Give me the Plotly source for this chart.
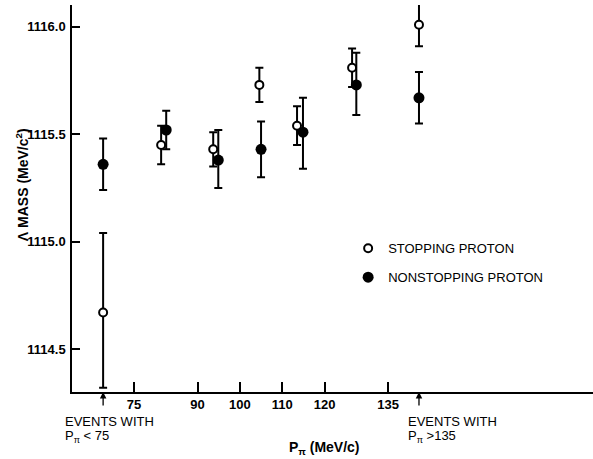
import plotly.graph_objects as go

# ---- data ----
tick_vals = [75, 90, 100, 110, 120, 135]
tick_text = ["75", "90", "100", "110", "120", "135"]
low_pos, high_pos = 67.7, 142.3   # plotting positions for "P<75" and "P>135" groups

open_x = [low_pos, 81.4, 93.7, 104.6, 113.5, 126.5, high_pos]
open_y = [1114.67, 1115.45, 1115.43, 1115.73, 1115.54, 1115.81, 1116.01]
open_ep = [0.37, 0.09, 0.08, 0.08, 0.09, 0.09, 0.10]
open_em = [0.35, 0.09, 0.08, 0.08, 0.09, 0.09, 0.10]

fill_x = [low_pos, 82.6, 94.9, 105.0, 114.9, 127.5, high_pos]
fill_y = [1115.36, 1115.52, 1115.38, 1115.43, 1115.51, 1115.73, 1115.67]
fill_ep = [0.12, 0.09, 0.14, 0.13, 0.16, 0.15, 0.12]
fill_em = [0.12, 0.09, 0.13, 0.13, 0.17, 0.14, 0.12]

y_ticks = [1114.5, 1115.0, 1115.5, 1116.0]
y_ticktext = ["1114.5", "1115.0", "1115.5", "1116.0"]

FONT = "Liberation Sans, Arial, sans-serif"

fig = go.Figure()
fig.add_trace(go.Scatter(
    x=open_x, y=open_y, mode="markers", name="STOPPING PROTON",
    marker=dict(symbol="circle", size=8, color="white", line=dict(color="black", width=2)),
    error_y=dict(type="data", symmetric=False, array=open_ep, arrayminus=open_em,
                 color="black", thickness=2, width=4),
    cliponaxis=False, legendgroup="a"))
fig.add_trace(go.Scatter(
    x=fill_x, y=fill_y, mode="markers", name="NONSTOPPING PROTON",
    marker=dict(symbol="circle", size=11, color="black", line=dict(width=0)),
    error_y=dict(type="data", symmetric=False, array=fill_ep, arrayminus=fill_em,
                 color="black", thickness=2, width=4),
    cliponaxis=False, legendgroup="b"))

fig.update_xaxes(range=[60.35, 183.4], showgrid=False, zeroline=False,
                 showline=True, linecolor="black", linewidth=1.5,
                 tickmode="array", tickvals=tick_vals, ticktext=tick_text,
                 ticks="inside", ticklen=10, tickwidth=1.5, tickcolor="black",
                 ticklabelstandoff=0,
                 tickfont=dict(family=FONT, size=13, color="black", weight="bold"))
fig.update_yaxes(range=[1114.30, 1116.102], showgrid=False, zeroline=False,
                 showline=True, linecolor="black", linewidth=1.5,
                 tickmode="array", tickvals=y_ticks, ticktext=y_ticktext,
                 ticks="inside", ticklen=8, tickwidth=1.5, tickcolor="black",
                 ticklabelstandoff=2,
                 tickfont=dict(family=FONT, size=13, color="black", weight="bold"))

ann = []
# arrows for the out-of-range groups
for xp in (low_pos, high_pos):
    ann.append(dict(x=xp, y=0, xref="x", yref="paper", text="", showarrow=True,
                    ax=0, ay=15, arrowhead=2, arrowsize=1, arrowwidth=1.3,
                    arrowcolor="black"))
lab_font = dict(family=FONT, size=13, color="black")
for xs, t1, t2 in ((-0.0173, "EVENTS WITH", "P<sub>π</sub> < 75"),
                   (0.641, "EVENTS WITH", "P<sub>π</sub> >135")):
    ann.append(dict(x=xs, y=-0.0775, xref="paper", yref="paper", text=t1, showarrow=False,
                    xanchor="left", yanchor="middle", font=lab_font))
    ann.append(dict(x=xs, y=-0.116, xref="paper", yref="paper", text=t2, showarrow=False,
                    xanchor="left", yanchor="middle", font=lab_font))
ann.append(dict(x=119.9, y=-0.145, xref="x", yref="paper",
                text="P<sub>π</sub> (MeV/c)", showarrow=False,
                xanchor="center", yanchor="middle",
                font=dict(family=FONT, size=14, color="black", weight="bold")))
ann.append(dict(x=-0.096, y=0.537, xref="paper", yref="paper",
                text="Λ MASS (MeV/c<sup>2</sup>)", showarrow=False, textangle=-90,
                xanchor="center", yanchor="middle",
                font=dict(family=FONT, size=14, color="black", weight="bold")))

fig.update_layout(
    width=593, height=459,
    margin=dict(l=72, r=0, t=5, b=67),
    paper_bgcolor="white", plot_bgcolor="white",
    annotations=ann,
    showlegend=True,
    legend=dict(x=0.53, y=0.41, xanchor="left", yanchor="top",
                bgcolor="rgba(0,0,0,0)", traceorder="grouped", tracegroupgap=9,
                font=dict(family=FONT, size=13, color="black")),
)

fig.write_html("out.html")
